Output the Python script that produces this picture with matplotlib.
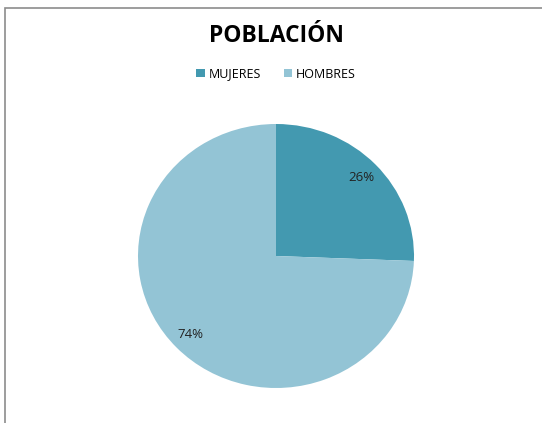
import matplotlib
matplotlib.use("Agg")
import matplotlib.pyplot as plt
from matplotlib.patches import Rectangle, Patch

labels = ["MUJERES", "HOMBRES"]
values = [25.6, 74.4]
colors = ["#4399b0", "#93c4d5"]

W, H = 542, 423
fig = plt.figure(figsize=(W / 100, H / 100), dpi=100)
plt.rcParams['font.family'] = ['Open Sans', 'DejaVu Sans']

# chart border (cut off at right/bottom)
fig.patches.append(Rectangle((5 / W, -0.1), 1.2, (H - 8) / H + 0.1, transform=fig.transFigure,
                             fill=False, edgecolor="#8c8c8c", linewidth=1.2))

# pie is slightly squashed in the reference: 138 px wide radius, 132 px tall
cx, cy, rx, ry = 276, 256, 138, 132
ax = fig.add_axes([(cx - rx) / W, (H - cy - ry) / H, 2 * rx / W, 2 * ry / H])
wedges, texts, autotexts = ax.pie(values, colors=colors, startangle=90, counterclock=False,
                                  autopct="%.0f%%", pctdistance=0.86, radius=1,
                                  textprops=dict(fontsize=9.5, color="#222222"))
ax.set_xlim(-1, 1)
ax.set_ylim(-1, 1)
ax.set_aspect("auto")
ax.axis("off")

fig.text(cx / W, 1 - 36 / H, "POBLACIÓN", ha="center", va="center", fontsize=16.5, fontweight="bold")

handles = [Patch(facecolor=c, edgecolor="none") for c in colors]
fig.legend(handles, labels, loc="center", bbox_to_anchor=(cx / W, 1 - 74 / H), ncol=2, frameon=False,
           fontsize=9, handlelength=0.7, handleheight=0.7, handletextpad=0.3, columnspacing=1.8)

fig.savefig("out.png", dpi=100)
